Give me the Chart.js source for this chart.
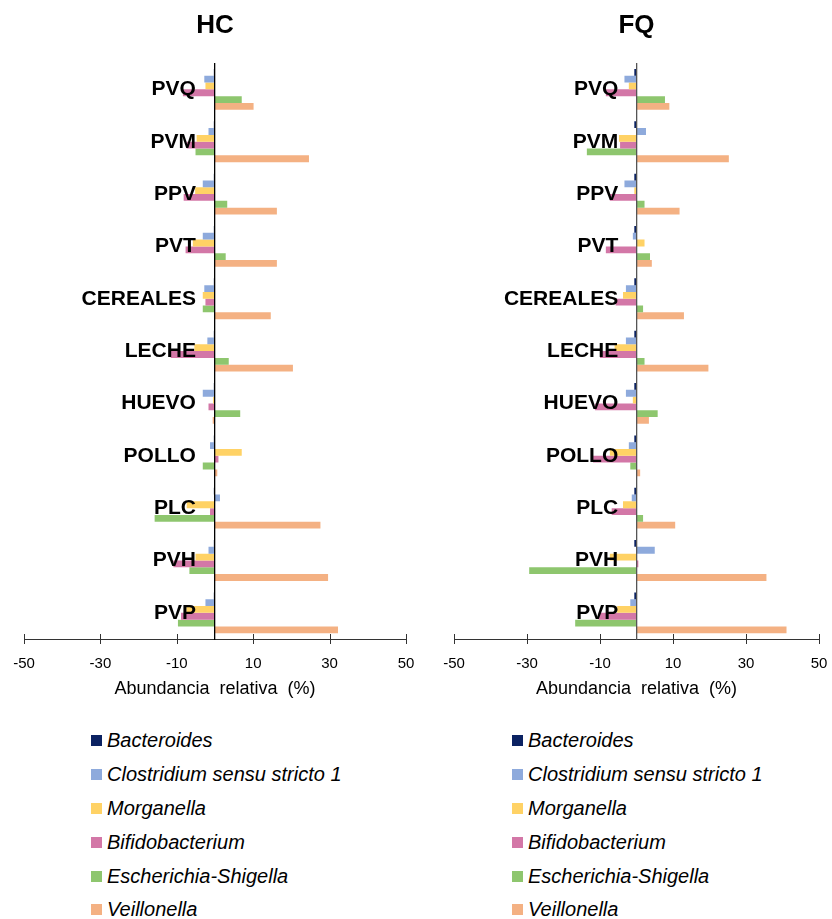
<!DOCTYPE html>
<html>
<head>
<meta charset="utf-8">
<script src="https://cdn.jsdelivr.net/npm/chart.js@4.4.1/dist/chart.umd.min.js"></script>
<style>
  body { margin: 0; background: #fff; width: 832px; height: 919px; position: relative; overflow: hidden; font-family: "Liberation Sans", Arial, sans-serif; }
  .box { position: absolute; top: 0; height: 710px; }
  #hcBox { left: 0; width: 416px; }
  #fqBox { left: 420px; width: 412px; }
  .legend { position: absolute; top: 724px; list-style: none; margin: 0; padding: 0; }
  .legend li { height: 33.8px; display: flex; align-items: center; font-style: italic; font-size: 20px; color: #000; white-space: nowrap; }
  .legend .sw { width: 11px; height: 11px; margin-right: 5px; display: inline-block; }
</style>
</head>
<body>
<div class="box" id="hcBox"><canvas id="hcChart"></canvas></div>
<div class="box" id="fqBox"><canvas id="fqChart"></canvas></div>
<ul class="legend" id="hcLegend" style="left:91px"></ul>
<ul class="legend" id="fqLegend" style="left:512px"></ul>
<script>
'use strict';
let categories = ['PVQ', 'PVM', 'PPV', 'PVT', 'CEREALES', 'LECHE', 'HUEVO', 'POLLO', 'PLC', 'PVH', 'PVP'];
let seriesNames = ['Bacteroides', 'Clostridium sensu stricto 1', 'Morganella', 'Bifidobacterium', 'Escherichia-Shigella', 'Veillonella'];
let colors = ['#0B2262', '#8EAADC', '#FFD265', '#D377A7', '#8EC66E', '#F4B183'];
let xTicks = [-50, -30, -10, 10, 30, 50];

// HC (%)
let hcBacteroides = [-0.3, -0.3, -0.3, -0.3, -0.3, -0.3, -0.3, -0.3, -0.3, -0.3, -0.3];
let hcClostridium = [-2.8, -1.7, -3.2, -3.2, -2.8, -2.0, -3.2, -1.3, 1.3, -1.7, -2.5];
let hcMorganella = [-2.5, -4.8, -5.2, -5.8, -3.2, -5.4, -0.5, 7.0, -7.4, -5.1, -7.5];
let hcBifidobacterium = [-8.4, -7.4, -8.2, -7.7, -2.5, -11.6, -1.7, 0.9, -1.3, -10.9, -8.9];
let hcEscherichia = [7.0, -5.1, 3.2, 2.8, -3.2, 3.6, 6.6, -3.2, -15.8, -6.7, -9.7];
let hcVeillonella = [10.1, 24.6, 16.2, 16.2, 14.6, 20.4, -0.6, 0.6, 27.6, 29.6, 32.2];

// FQ (%)
let fqBacteroides = [-0.6, -0.6, -0.6, -0.6, -0.6, -0.6, -0.6, -0.6, -0.6, -0.6, -0.6];
let fqClostridium = [-3.3, 2.6, -3.3, -1.0, -2.9, -2.9, -2.9, -2.1, -1.3, 5.0, -1.7];
let fqMorganella = [-2.1, -4.8, -0.6, 2.2, -3.7, -6.0, -1.0, -7.3, -3.7, -7.3, -5.3];
let fqBifidobacterium = [-8.4, -4.5, -7.3, -8.4, -5.7, -10.0, -11.4, -11.9, -6.8, 0.5, -10.4];
let fqEscherichia = [7.8, -13.6, 2.2, 3.7, 1.8, 2.2, 5.8, -1.7, 1.8, -29.4, -16.8];
let fqVeillonella = [9.0, 25.3, 11.8, 4.2, 13.0, 19.7, 3.4, 1.0, 10.6, 35.6, 41.1];

// cross tick marks on the x axis, like the excel ones
let crossTicks = {
  id: 'crossTicks',
  afterDraw(chart) {
    let xs = chart.scales.x;
    let ctx = chart.ctx;
    let y = chart.chartArea.bottom;
    ctx.save();
    ctx.strokeStyle = '#333';
    ctx.lineWidth = 1;
    for (let i = 0; i < xs.ticks.length; i++) {
      let x = Math.round(xs.getPixelForTick(i)) + 0.5;
      ctx.beginPath();
      ctx.moveTo(x, y - 5);
      ctx.lineTo(x, y + 5);
      ctx.stroke();
    }
    ctx.restore();
  }
};

function makeChart(id, title, series, pad, zeroColor) {
  let datasets = [];
  for (let i = 0; i < seriesNames.length; i++) {
    datasets.push({
      label: seriesNames[i],
      data: series[i],
      backgroundColor: colors[i],
      borderWidth: 0,
      categoryPercentage: 0.78,
      barPercentage: 1.0
    });
  }
  let ctx = document.getElementById(id).getContext('2d');
  return new Chart(ctx, {
    type: 'bar',
    data: { labels: categories, datasets: datasets },
    options: {
      indexAxis: 'y',
      responsive: true,
      maintainAspectRatio: false,
      animation: false,
      layout: { padding: { left: pad[0], right: pad[1], top: 0, bottom: 6 } },
      plugins: {
        legend: { display: false },
        tooltip: { enabled: false },
        title: {
          display: true,
          text: title,
          color: '#000',
          font: { family: 'Liberation Sans', size: 26, weight: 'bold' },
          padding: { top: 10, bottom: 22 }
        }
      },
      scales: {
        x: {
          type: 'linear',
          min: -50,
          max: 50,
          afterBuildTicks: (scale) => { scale.ticks = xTicks.map(v => ({ value: v })); },
          afterFit: (scale) => {
            scale.height = 65;
            scale.paddingLeft = 0;
            scale.paddingRight = 0;
          },
          grid: { display: true, drawOnChartArea: false, drawTicks: false },
          border: { display: true, color: '#333', width: 1 },
          ticks: { color: '#000', padding: 16, font: { family: 'Liberation Sans', size: 15 } },
          title: {
            display: true,
            text: 'Abundancia  relativa  (%)',
            color: '#000',
            font: { family: 'Liberation Sans', size: 18 },
            padding: { top: 0, bottom: 4 }
          }
        },
        y: {
          type: 'category',
          position: { x: 0 },
          grid: { display: true, drawOnChartArea: false, drawTicks: false },
          border: { display: true, color: zeroColor, width: 1.3, z: 1 },
          ticks: { display: false }
        },
        // category names sit a little left of the zero line
        yl: {
          axis: 'y',
          type: 'category',
          position: { x: -5 },
          grid: { display: false },
          border: { display: false },
          ticks: {
            z: 1,
            autoSkip: false,
            color: '#000',
            font: { family: 'Liberation Sans', size: 21, weight: 'bold' }
          }
        }
      }
    },
    plugins: [crossTicks]
  });
}

function fillLegend(chart, ulId) {
  let ul = document.getElementById(ulId);
  chart.data.datasets.forEach(ds => {
    let li = document.createElement('li');
    let sw = document.createElement('span');
    sw.className = 'sw';
    sw.style.background = ds.backgroundColor;
    li.appendChild(sw);
    li.appendChild(document.createTextNode(ds.label));
    ul.appendChild(li);
  });
}

let hcChart = makeChart('hcChart', 'HC',
  [hcBacteroides, hcClostridium, hcMorganella, hcBifidobacterium, hcEscherichia, hcVeillonella],
  [24, 10], '#000');
let fqChart = makeChart('fqChart', 'FQ',
  [fqBacteroides, fqClostridium, fqMorganella, fqBifidobacterium, fqEscherichia, fqVeillonella],
  [34, 13], '#555');
fillLegend(hcChart, 'hcLegend');
fillLegend(fqChart, 'fqLegend');
</script>
</body>
</html>
